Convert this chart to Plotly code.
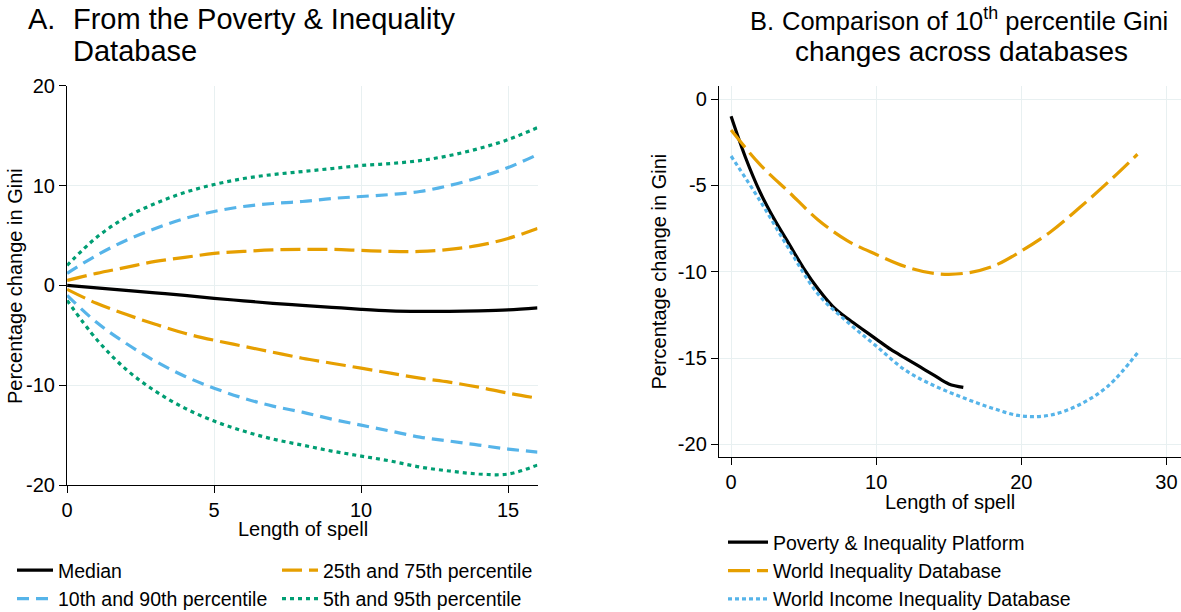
import plotly.graph_objects as go

# --- Data: panel A (Poverty & Inequality Database) ---
spell_a = list(range(17))
median = [0, -0.25, -0.5, -0.75, -1.0, -1.3, -1.55, -1.8, -2.0, -2.2, -2.4, -2.55, -2.6, -2.6, -2.55, -2.45, -2.25]
p75 = [0.5, 1.2, 1.8, 2.4, 2.8, 3.2, 3.4, 3.55, 3.6, 3.6, 3.5, 3.4, 3.4, 3.6, 4.0, 4.7, 5.7]
p25 = [-0.4, -1.8, -2.9, -3.9, -4.8, -5.5, -6.1, -6.7, -7.3, -7.8, -8.3, -8.8, -9.3, -9.7, -10.2, -10.8, -11.3]
p90 = [1.2, 3.0, 4.5, 5.7, 6.7, 7.4, 7.9, 8.2, 8.4, 8.7, 8.9, 9.1, 9.4, 10.0, 10.8, 11.8, 13.1]
p10 = [-1.0, -3.7, -5.8, -7.6, -9.1, -10.3, -11.3, -12.1, -12.7, -13.4, -14.0, -14.6, -15.2, -15.6, -16.0, -16.4, -16.7]
p95 = [2.0, 4.8, 6.8, 8.2, 9.3, 10.1, 10.7, 11.1, 11.4, 11.7, 12.0, 12.2, 12.5, 13.0, 13.7, 14.6, 15.8]
p5 = [-1.5, -5.4, -8.4, -10.6, -12.3, -13.6, -14.6, -15.4, -16.0, -16.6, -17.1, -17.6, -18.2, -18.6, -18.9, -18.9, -18.0]

# --- Data: panel B (10th percentile across databases) ---
spell_pip = list(range(17))
pip = [-1.0, -3.4, -5.4, -7.0, -8.4, -9.8, -11.0, -12.0, -12.7, -13.3, -13.9, -14.5, -15.0, -15.5, -16.0, -16.5, -16.7]
spell_b = list(range(0, 29, 2))
wid = [-1.8, -3.8, -5.4, -7.0, -8.2, -9.0, -9.7, -10.1, -10.1, -9.7, -8.8, -7.7, -6.3, -4.8, -3.2]
wiid = [-3.3, -5.9, -8.7, -11.3, -12.9, -14.3, -15.7, -16.6, -17.3, -17.9, -18.35, -18.3, -17.7, -16.6, -14.7]

# tick labels
ya_ticks = [-20, -10, 0, 10, 20]
xa_ticks = [0, 5, 10, 15]
yb_ticks = [-20, -15, -10, -5, 0]
xb_ticks = [0, 10, 20, 30]

BLACK = "#000000"
ORANGE = "#E69F00"
BLUE = "#56B4E9"
GREEN = "#009E73"
GRID = "#E8F0F1"
FONT = "Liberation Sans, Arial, sans-serif"
W, H = 1181, 612


def px(x):
    return x / W


def py(y):
    return 1 - y / H


fig = go.Figure()

left = [
    ("Median", median, BLACK, "solid", "legend", True),
    ("25th and 75th percentile", p75, ORANGE, "20px,7px", "legend2", True),
    ("25th and 75th percentile", p25, ORANGE, "20px,7px", "legend2", False),
    ("10th and 90th percentile", p90, BLUE, "12px,7px", "legend", True),
    ("10th and 90th percentile", p10, BLUE, "12px,7px", "legend", False),
    ("5th and 95th percentile", p95, GREEN, "4px,4px", "legend2", True),
    ("5th and 95th percentile", p5, GREEN, "4px,4px", "legend2", False),
]
for name, ys, color, dash, leg, show in left:
    fig.add_trace(go.Scatter(
        x=spell_a, y=ys, mode="lines", line_shape="spline",
        line=dict(color=color, width=3.2, dash=dash),
        name=name, showlegend=show, legend=leg,
        xaxis="x", yaxis="y",
    ))

right = [
    ("Poverty & Inequality Platform", spell_pip, pip, BLACK, "solid"),
    ("World Inequality Database", spell_b, wid, ORANGE, "22px,7px"),
    ("World Income Inequality Database", spell_b, wiid, BLUE, "4px,3px"),
]
for name, xs, ys, color, dash in right:
    fig.add_trace(go.Scatter(
        x=xs, y=ys, mode="lines", line_shape="spline",
        line=dict(color=color, width=3.2, dash=dash),
        name=name, legend="legend3", xaxis="x2", yaxis="y2",
    ))

axis_common = dict(
    showline=True, linecolor="black", linewidth=1.3,
    ticks="outside", ticklen=7, tickwidth=1.3, tickcolor="black",
    showgrid=True, gridcolor=GRID, gridwidth=1.2, zeroline=False,
    tickfont=dict(family=FONT, size=20, color="black"),
)

legend_common = dict(xanchor="left", yanchor="top", bgcolor="rgba(0,0,0,0)",
                     tracegroupgap=0, font=dict(family=FONT, size=19.5, color="black"))

fig.update_layout(
    width=W, height=H,
    margin=dict(l=0, r=0, t=0, b=0, autoexpand=False),
    paper_bgcolor="white", plot_bgcolor="white",
    font=dict(family=FONT, size=20, color="black"),
    xaxis=dict(domain=[px(67.1), px(537.5)], range=[0, 16], anchor="y",
               tickvals=xa_ticks, ticktext=[str(v) for v in xa_ticks], **axis_common),
    yaxis=dict(domain=[py(485), py(85.7)], range=[-20, 20], anchor="x",
               tickvals=ya_ticks, ticktext=[str(v) for v in ya_ticks], **axis_common),
    xaxis2=dict(domain=[px(718.9), 1.0], range=[-0.84, 31.0], anchor="y2",
                tickvals=xb_ticks, ticktext=[str(v) for v in xb_ticks], **axis_common),
    yaxis2=dict(domain=[py(456.7), py(85.7)], range=[-20.71, 0.77], anchor="x2",
                tickvals=yb_ticks, ticktext=[str(v) for v in yb_ticks], **axis_common),
    legend=dict(x=px(12), y=py(551), itemwidth=36, **legend_common),
    legend2=dict(x=px(277), y=py(551), itemwidth=36, **legend_common),
    legend3=dict(x=px(723), y=py(523), itemwidth=40, **legend_common),
)

ann = [
    dict(text="A.", x=26, y=37, xanchor="left", size=29),
    dict(text="From the Poverty & Inequality", x=71, y=37, xanchor="left", size=29),
    dict(text="Database", x=71, y=69, xanchor="left", size=29),
    dict(text="B.", x=748, y=37, xanchor="left", size=25.5),
    dict(text="Comparison of 10<sup>th</sup> percentile Gini", x=780, y=37, xanchor="left", size=25.5),
    dict(text="changes across databases", x=961, y=69, xanchor="center", size=28),
]
for a in ann:
    fig.add_annotation(
        text=a["text"], x=px(a["x"]), y=py(a["y"]), xref="paper", yref="paper",
        xanchor=a["xanchor"], yanchor="bottom", showarrow=False,
        font=dict(family=FONT, size=a["size"], color="black"),
    )

axis_titles = [
    dict(text="Length of spell", x=302.5, y=529, angle=0),
    dict(text="Length of spell", x=950, y=502, angle=0),
    dict(text="Percentage change in Gini", x=15, y=286, angle=-90),
    dict(text="Percentage change in Gini", x=658, y=271.5, angle=-90),
]
for a in axis_titles:
    fig.add_annotation(
        text=a["text"], x=px(a["x"]), y=py(a["y"]), xref="paper", yref="paper",
        xanchor="center", yanchor="middle", showarrow=False, textangle=a["angle"],
        font=dict(family=FONT, size=20, color="black"),
    )

fig.write_html("out.html", config={"displayModeBar": False},
               post_script="document.body.style.margin='0px';")
